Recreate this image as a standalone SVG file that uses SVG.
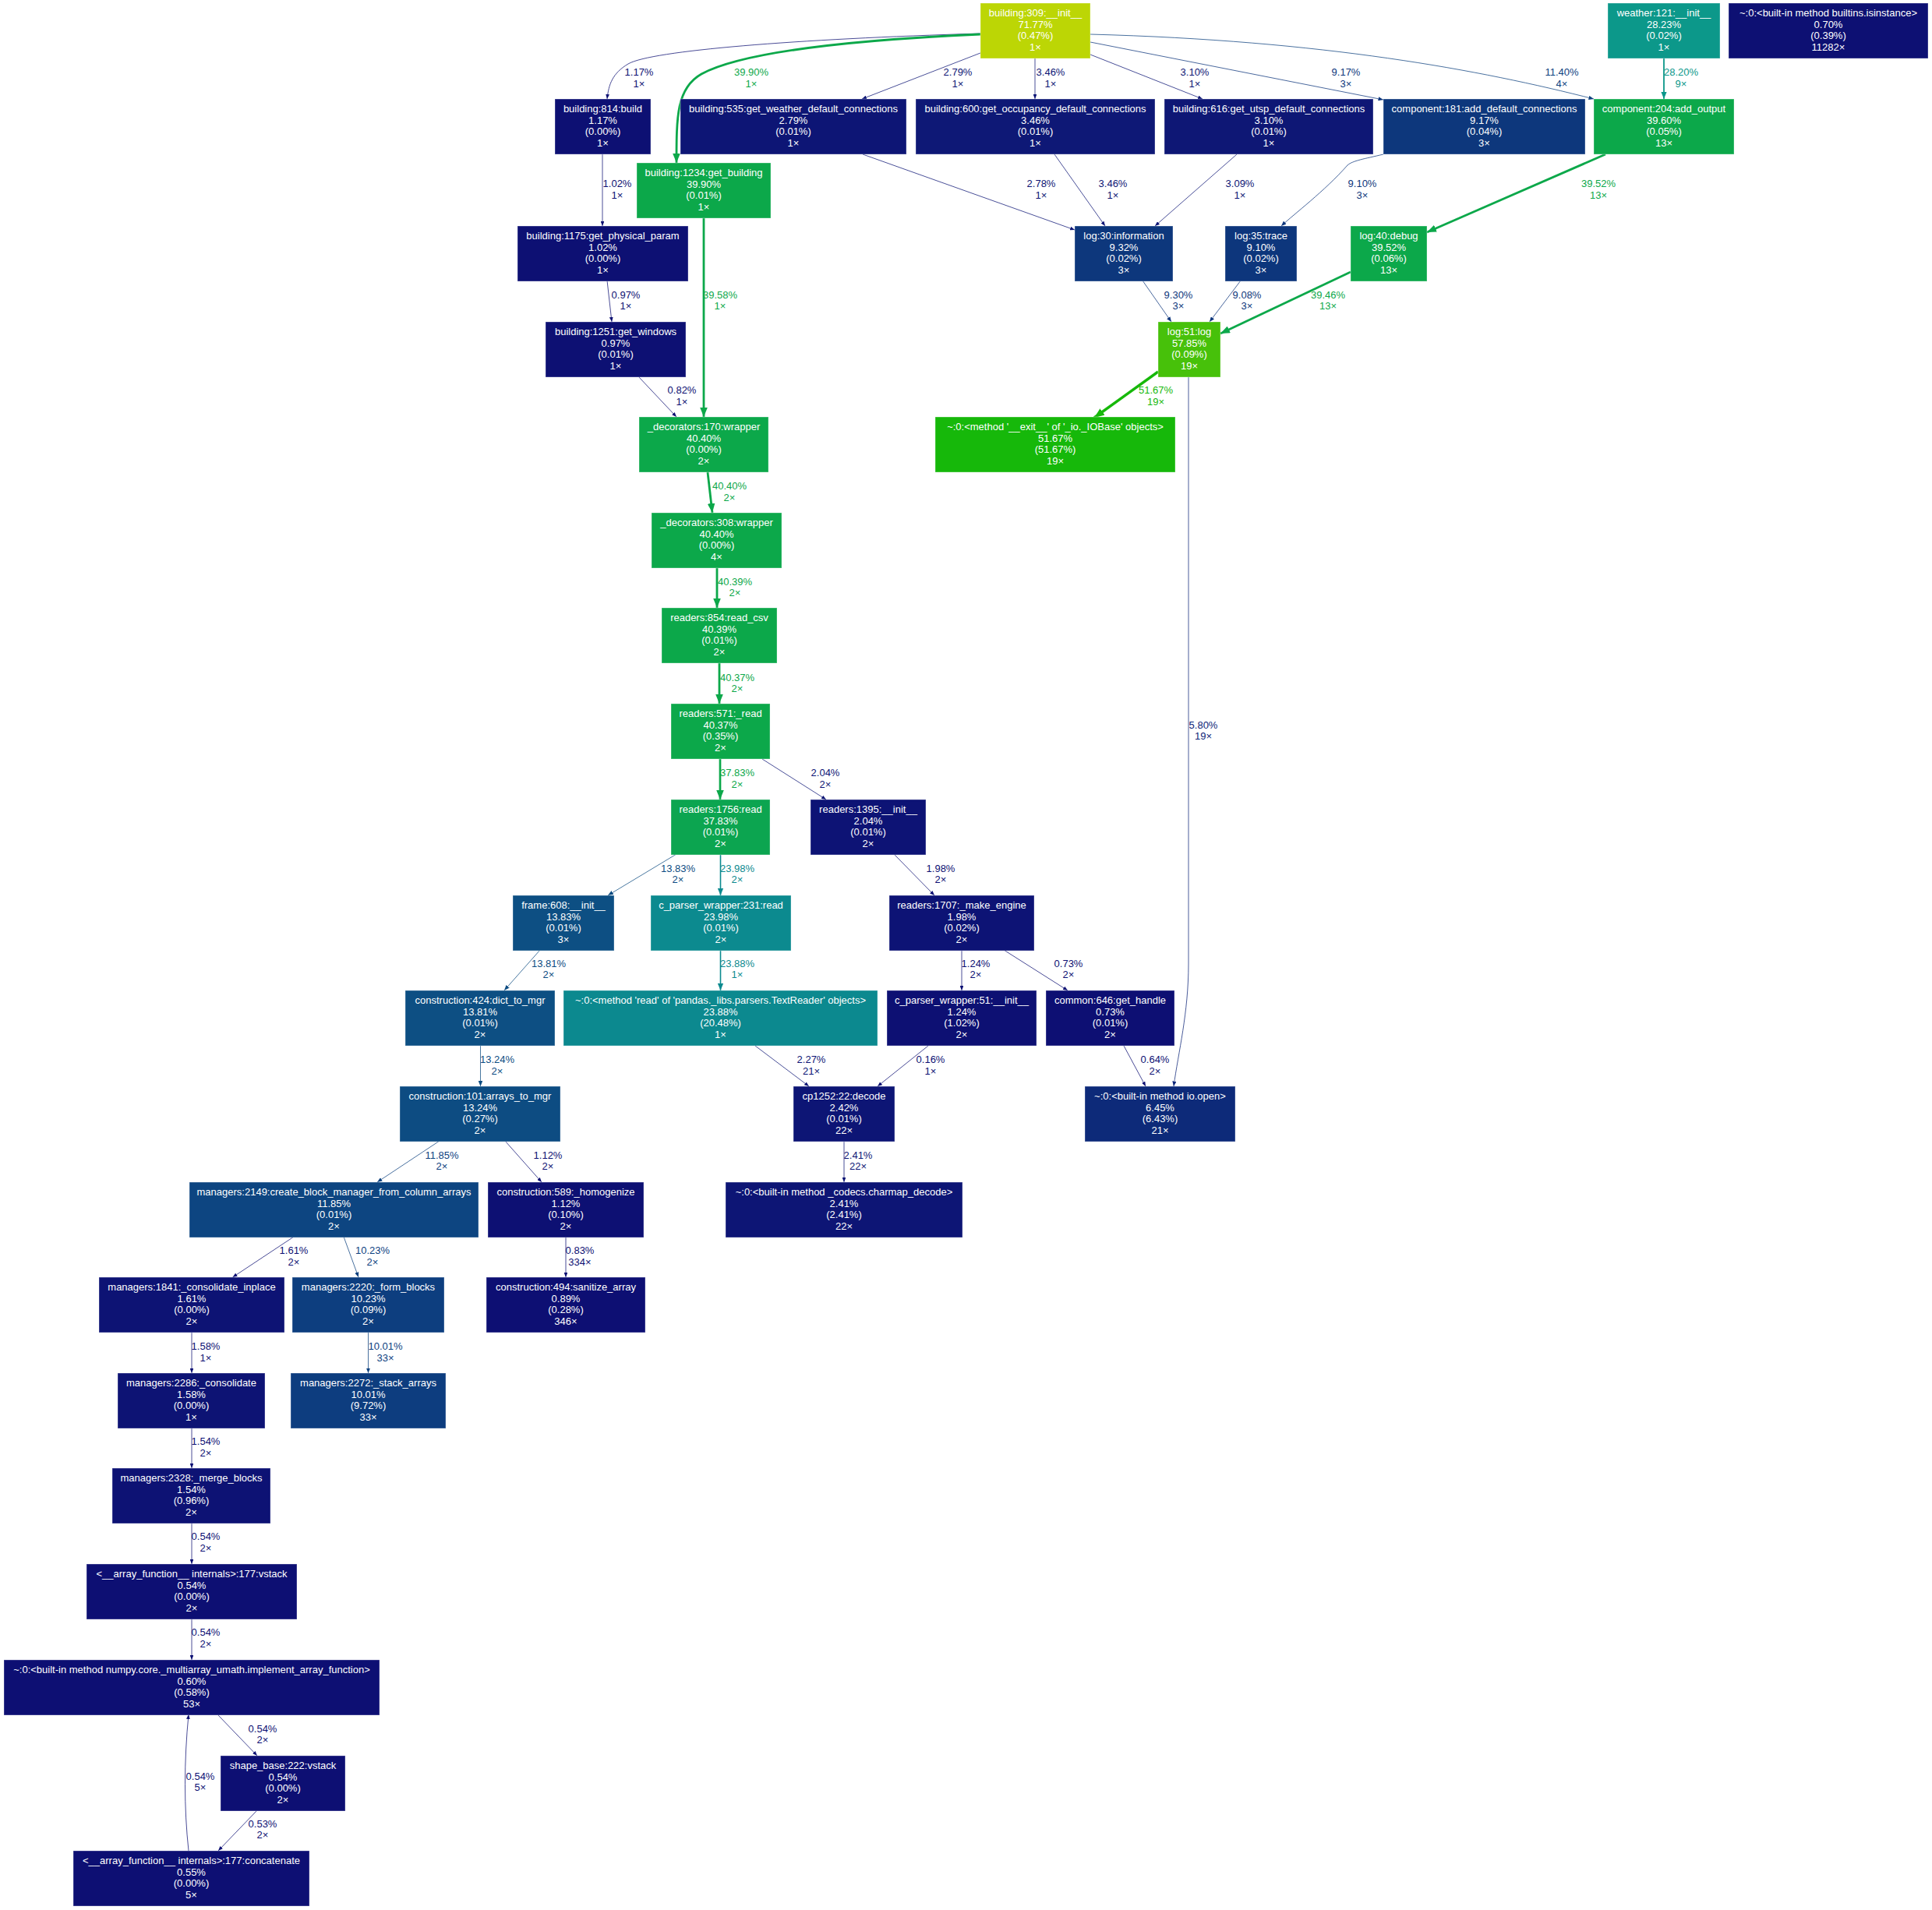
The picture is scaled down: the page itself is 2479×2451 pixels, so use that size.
<svg xmlns="http://www.w3.org/2000/svg" width="2479" height="2451" viewBox="0 0 2479 2451">
<style>
text{font-family:"Liberation Sans",Arial,sans-serif;font-size:13px;text-anchor:middle}
.node rect{stroke:#ffffff;stroke-opacity:0.35;stroke-width:1}
.node text{fill:#ffffff}
.e{fill:none}
.t{stroke-width:1;stroke-opacity:0.75}
.cN{stroke:#0d1073;fill:#0d1073}
.cN2{stroke:#0d1575;fill:#0d1575}
.cB9{stroke:#0d367c;fill:#0d367c}
.cB11{stroke:#0d417f;fill:#0d417f}
.cB13{stroke:#0d4c82;fill:#0d4c82}
.cIO{stroke:#0d2578;fill:#0d2578}
.cT{stroke:#0c8a8f;fill:#0c8a8f}
.cT2{stroke:#0b978a;fill:#0b978a}
.cG{stroke:#0ca84a;fill:#0ca84a}
.cG2{stroke:#16b80a;fill:#16b80a}
path.e{fill:none}
.lbl text{stroke:none}
.lN{fill:#0d1073}.lN2{fill:#0d1575}.lB9{fill:#0d367c}.lB11{fill:#0d417f}.lB13{fill:#0d4c82}.lIO{fill:#0d2578}.lT{fill:#0c8a8f}.lT2{fill:#0b978a}.lG{fill:#0ca84a}.lG2{fill:#16b80a}
</style>
<defs>
<marker id="mN" viewBox="0 0 10 8" refX="10" refY="4" markerWidth="6" markerHeight="4.8" markerUnits="userSpaceOnUse" orient="auto"><path d="M0,0L10,4L0,8z" fill="#0d1073"/></marker>
<marker id="mN2" viewBox="0 0 10 8" refX="10" refY="4" markerWidth="6" markerHeight="4.8" markerUnits="userSpaceOnUse" orient="auto"><path d="M0,0L10,4L0,8z" fill="#0d1575"/></marker>
<marker id="mB9" viewBox="0 0 10 8" refX="10" refY="4" markerWidth="6.5" markerHeight="5.2" markerUnits="userSpaceOnUse" orient="auto"><path d="M0,0L10,4L0,8z" fill="#0d367c"/></marker>
<marker id="mB11" viewBox="0 0 10 8" refX="10" refY="4" markerWidth="6.5" markerHeight="5.2" markerUnits="userSpaceOnUse" orient="auto"><path d="M0,0L10,4L0,8z" fill="#0d417f"/></marker>
<marker id="mB13" viewBox="0 0 10 8" refX="10" refY="4" markerWidth="7" markerHeight="5.6" markerUnits="userSpaceOnUse" orient="auto"><path d="M0,0L10,4L0,8z" fill="#0d4c82"/></marker>
<marker id="mIO" viewBox="0 0 10 8" refX="10" refY="4" markerWidth="6.5" markerHeight="5.2" markerUnits="userSpaceOnUse" orient="auto"><path d="M0,0L10,4L0,8z" fill="#0d2578"/></marker>
<marker id="mT" viewBox="0 0 10 8" refX="10" refY="4" markerWidth="9" markerHeight="7.2" markerUnits="userSpaceOnUse" orient="auto"><path d="M0,0L10,4L0,8z" fill="#0c8a8f"/></marker>
<marker id="mT2" viewBox="0 0 10 8" refX="10" refY="4" markerWidth="9.5" markerHeight="7.6" markerUnits="userSpaceOnUse" orient="auto"><path d="M0,0L10,4L0,8z" fill="#0b978a"/></marker>
<marker id="mG" viewBox="0 0 10 8" refX="10" refY="4" markerWidth="12" markerHeight="9.6" markerUnits="userSpaceOnUse" orient="auto"><path d="M0,0L10,4L0,8z" fill="#0ca84a"/></marker>
<marker id="mG2" viewBox="0 0 10 8" refX="10" refY="4" markerWidth="13" markerHeight="10.4" markerUnits="userSpaceOnUse" orient="auto"><path d="M0,0L10,4L0,8z" fill="#16b80a"/></marker>
</defs>
<rect width="2479" height="2451" fill="#ffffff"/>
<g id="connectors">
<path class="e t cN" d="M1258,43 C1020,50 835,65 806,82 C786,94 781,108 779,127" marker-end="url(#mN)"/>
<path class="e cG" stroke-width="2.8" d="M1258,44 C1080,52 950,68 900,95 C868,113 868,150 868,209" marker-end="url(#mG)"/>
<path class="e t cN2" d="M1258,68 L1106,127" marker-end="url(#mN2)"/>
<path class="e t cN2" d="M1328,75 L1328,127" marker-end="url(#mN2)"/>
<path class="e t cN2" d="M1399,70 L1543,127" marker-end="url(#mN2)"/>
<path class="e t cB9" d="M1399,54 L1775,128" marker-end="url(#mB9)"/>
<path class="e t cB11" d="M1399,44 C1700,52 1900,90 2045,127" marker-end="url(#mB11)"/>
<path class="e cT2" stroke-width="1.8" d="M2135,75 L2135,127" marker-end="url(#mT2)"/>
<path class="e t cN" d="M773,198 L773,290" marker-end="url(#mN)"/>
<path class="e t cN2" d="M1107,198 L1379,295" marker-end="url(#mN2)"/>
<path class="e t cN2" d="M1353,198 L1418,290" marker-end="url(#mN2)"/>
<path class="e t cN2" d="M1587,198 L1482,290" marker-end="url(#mN2)"/>
<path class="e t cB9" d="M1775,198 C1750,204 1736,206 1729,212 C1700,245 1660,275 1644,290" marker-end="url(#mB9)"/>
<path class="e cG" stroke-width="2.8" d="M2060,198 L1831,298" marker-end="url(#mG)"/>
<path class="e t cN" d="M779,360 L785,413" marker-end="url(#mN)"/>
<path class="e cG" stroke-width="2.8" d="M903,279 L903,535" marker-end="url(#mG)"/>
<path class="e t cN" d="M819,483 L868,535" marker-end="url(#mN)"/>
<path class="e t cB9" d="M1466,360 L1503,413" marker-end="url(#mB9)"/>
<path class="e t cB9" d="M1592,360 L1552,413" marker-end="url(#mB9)"/>
<path class="e cG" stroke-width="2.8" d="M1733,349 L1566,428" marker-end="url(#mG)"/>
<path class="e cG2" stroke-width="3.4" d="M1486,477 L1404,536" marker-end="url(#mG2)"/>
<path class="e t cIO" d="M1525,483 L1525,1237 C1525,1300 1512,1350 1506,1394" marker-end="url(#mIO)"/>
<path class="e cG" stroke-width="2.8" d="M908,606 L914,658" marker-end="url(#mG)"/>
<path class="e cG" stroke-width="2.8" d="M920,728 L920,780" marker-end="url(#mG)"/>
<path class="e cG" stroke-width="2.8" d="M923,851 L923,903" marker-end="url(#mG)"/>
<path class="e cG" stroke-width="2.7" d="M924,974 L924,1026" marker-end="url(#mG)"/>
<path class="e t cN2" d="M978,974 L1060,1026" marker-end="url(#mN2)"/>
<path class="e t cB13" d="M868,1096 L780,1149" marker-end="url(#mB13)"/>
<path class="e cT" stroke-width="1.6" d="M924.5,1096 L924.5,1149" marker-end="url(#mT)"/>
<path class="e t cN" d="M1148,1097 L1199,1149" marker-end="url(#mN)"/>
<path class="e t cB13" d="M693,1219 L647,1271" marker-end="url(#mB13)"/>
<path class="e cT" stroke-width="1.6" d="M924.5,1219 L924.5,1271" marker-end="url(#mT)"/>
<path class="e t cN" d="M1234,1219 L1234,1271" marker-end="url(#mN)"/>
<path class="e t cN" d="M1288,1219 L1370,1271" marker-end="url(#mN)"/>
<path class="e t cB13" d="M616.5,1342 L616.5,1394" marker-end="url(#mB13)"/>
<path class="e t cN2" d="M969,1342 L1038,1394" marker-end="url(#mN2)"/>
<path class="e t cN" d="M1191,1342 L1126,1394" marker-end="url(#mN)"/>
<path class="e t cN" d="M1442,1342 L1470,1394" marker-end="url(#mN)"/>
<path class="e t cN2" d="M1083,1464 L1083,1517" marker-end="url(#mN2)"/>
<path class="e t cB11" d="M564,1464 L484,1517" marker-end="url(#mB11)"/>
<path class="e t cN" d="M648,1464 L695,1517" marker-end="url(#mN)"/>
<path class="e t cN" d="M377,1587 L298.5,1639" marker-end="url(#mN)"/>
<path class="e t cB11" d="M441,1587 L460,1639" marker-end="url(#mB11)"/>
<path class="e t cN" d="M726,1587 L726,1639" marker-end="url(#mN)"/>
<path class="e t cN" d="M246,1710 L246,1762" marker-end="url(#mN)"/>
<path class="e t cB11" d="M472.5,1710 L472.5,1762" marker-end="url(#mB11)"/>
<path class="e t cN" d="M246,1832 L246,1884" marker-end="url(#mN)"/>
<path class="e t cN" d="M246,1955 L246,2007" marker-end="url(#mN)"/>
<path class="e t cN" d="M246,2077 L246,2130" marker-end="url(#mN)"/>
<path class="e t cN" d="M279,2200 L330,2253" marker-end="url(#mN)"/>
<path class="e t cN" d="M330,2323 L280,2375" marker-end="url(#mN)"/>
<path class="e t cN" d="M242,2375 C236,2320 236,2260 242,2200" marker-end="url(#mN)"/>
<g class="lbl">
<text class="lN" x="820" y="97">1.17%<tspan x="820" dy="14.6">1×</tspan></text>
<text class="lG" x="964" y="97">39.90%<tspan x="964" dy="14.6">1×</tspan></text>
<text class="lN2" x="1229" y="97">2.79%<tspan x="1229" dy="14.6">1×</tspan></text>
<text class="lN2" x="1348" y="97">3.46%<tspan x="1348" dy="14.6">1×</tspan></text>
<text class="lN2" x="1533" y="97">3.10%<tspan x="1533" dy="14.6">1×</tspan></text>
<text class="lB9" x="1727" y="97">9.17%<tspan x="1727" dy="14.6">3×</tspan></text>
<text class="lB11" x="2004" y="97">11.40%<tspan x="2004" dy="14.6">4×</tspan></text>
<text class="lT2" x="2157" y="97">28.20%<tspan x="2157" dy="14.6">9×</tspan></text>
<text class="lN" x="792" y="240.3">1.02%<tspan x="792" dy="14.5">1×</tspan></text>
<text class="lN2" x="1336" y="240.3">2.78%<tspan x="1336" dy="14.5">1×</tspan></text>
<text class="lN2" x="1428" y="240.3">3.46%<tspan x="1428" dy="14.5">1×</tspan></text>
<text class="lN2" x="1591" y="240.3">3.09%<tspan x="1591" dy="14.5">1×</tspan></text>
<text class="lB9" x="1748" y="240.3">9.10%<tspan x="1748" dy="14.5">3×</tspan></text>
<text class="lG" x="2051" y="240.3">39.52%<tspan x="2051" dy="14.5">13×</tspan></text>
<text class="lN" x="803" y="383">0.97%<tspan x="803" dy="14">1×</tspan></text>
<text class="lG" x="924" y="383">39.58%<tspan x="924" dy="14">1×</tspan></text>
<text class="lB9" x="1512" y="383">9.30%<tspan x="1512" dy="14">3×</tspan></text>
<text class="lB9" x="1600" y="383">9.08%<tspan x="1600" dy="14">3×</tspan></text>
<text class="lG" x="1704" y="383">39.46%<tspan x="1704" dy="14">13×</tspan></text>
<text class="lN" x="875" y="504.6">0.82%<tspan x="875" dy="15">1×</tspan></text>
<text class="lG2" x="1483" y="504.6">51.67%<tspan x="1483" dy="15">19×</tspan></text>
<text class="lG" x="936" y="628">40.40%<tspan x="936" dy="15">2×</tspan></text>
<text class="lIO" x="1544" y="934.6">5.80%<tspan x="1544" dy="14.4">19×</tspan></text>
<text class="lG" x="943" y="751.3">40.39%<tspan x="943" dy="13.7">2×</tspan></text>
<text class="lG" x="946" y="873.6">40.37%<tspan x="946" dy="14">2×</tspan></text>
<text class="lG" x="946" y="996.3">37.83%<tspan x="946" dy="14.3">2×</tspan></text>
<text class="lN2" x="1059" y="996.3">2.04%<tspan x="1059" dy="14.3">2×</tspan></text>
<text class="lB13" x="870" y="1119">13.83%<tspan x="870" dy="13.7">2×</tspan></text>
<text class="lT" x="946" y="1119">23.98%<tspan x="946" dy="13.7">2×</tspan></text>
<text class="lN" x="1207" y="1119">1.98%<tspan x="1207" dy="13.7">2×</tspan></text>
<text class="lB13" x="704" y="1241.3">13.81%<tspan x="704" dy="14">2×</tspan></text>
<text class="lT" x="946" y="1241.3">23.88%<tspan x="946" dy="14">1×</tspan></text>
<text class="lN" x="1252" y="1241.3">1.24%<tspan x="1252" dy="14">2×</tspan></text>
<text class="lN" x="1371" y="1241.3">0.73%<tspan x="1371" dy="14">2×</tspan></text>
<text class="lB13" x="638" y="1364">13.24%<tspan x="638" dy="14.6">2×</tspan></text>
<text class="lN2" x="1041" y="1364">2.27%<tspan x="1041" dy="14.6">21×</tspan></text>
<text class="lN" x="1194" y="1364">0.16%<tspan x="1194" dy="14.6">1×</tspan></text>
<text class="lN" x="1482" y="1364">0.64%<tspan x="1482" dy="14.6">2×</tspan></text>
<text class="lN2" x="1101" y="1487">2.41%<tspan x="1101" dy="14.2">22×</tspan></text>
<text class="lB11" x="567" y="1487">11.85%<tspan x="567" dy="14.2">2×</tspan></text>
<text class="lN" x="703" y="1487">1.12%<tspan x="703" dy="14.2">2×</tspan></text>
<text class="lN" x="377" y="1609">1.61%<tspan x="377" dy="14.6">2×</tspan></text>
<text class="lB11" x="478" y="1609">10.23%<tspan x="478" dy="14.6">2×</tspan></text>
<text class="lN" x="744" y="1609">0.83%<tspan x="744" dy="14.6">334×</tspan></text>
<text class="lN" x="264" y="1732.3">1.58%<tspan x="264" dy="14.3">1×</tspan></text>
<text class="lB11" x="494.5" y="1732.3">10.01%<tspan x="494.5" dy="14.3">33×</tspan></text>
<text class="lN" x="264" y="1854.4">1.54%<tspan x="264" dy="14.3">2×</tspan></text>
<text class="lN" x="264" y="1976.4">0.54%<tspan x="264" dy="15">2×</tspan></text>
<text class="lN" x="264" y="2099.2">0.54%<tspan x="264" dy="15">2×</tspan></text>
<text class="lN" x="337" y="2222.6">0.54%<tspan x="337" dy="14">2×</tspan></text>
<text class="lN" x="337" y="2344.6">0.53%<tspan x="337" dy="14.7">2×</tspan></text>
<text class="lN" x="257" y="2284">0.54%<tspan x="257" dy="14.4">5×</tspan></text>
</g>
</g>
<g id="n309" class="node"><rect x="1258" y="4" width="141" height="71" fill="#bcd605"/><text x="1328.5" y="20.7">building:309:__init__<tspan x="1328.5" dy="14.8">71.77%</tspan><tspan x="1328.5" dy="14.8">(0.47%)</tspan><tspan x="1328.5" dy="14.8">1×</tspan></text></g>
<g id="n121" class="node"><rect x="2063" y="4" width="144" height="71" fill="#0c988a"/><text x="2135" y="20.7">weather:121:__init__<tspan x="2135" dy="14.8">28.23%</tspan><tspan x="2135" dy="14.8">(0.02%)</tspan><tspan x="2135" dy="14.8">1×</tspan></text></g>
<g id="nisinstance" class="node"><rect x="2218" y="4" width="256" height="71" fill="#0d1073"/><text x="2346" y="20.7">~:0:&lt;built-in method builtins.isinstance&gt;<tspan x="2346" dy="14.8">0.70%</tspan><tspan x="2346" dy="14.8">(0.39%)</tspan><tspan x="2346" dy="14.8">11282×</tspan></text></g>
<g id="n814" class="node"><rect x="712" y="127" width="123" height="71" fill="#0d1073"/><text x="773.5" y="143.7">building:814:build<tspan x="773.5" dy="14.8">1.17%</tspan><tspan x="773.5" dy="14.8">(0.00%)</tspan><tspan x="773.5" dy="14.8">1×</tspan></text></g>
<g id="n535" class="node"><rect x="873" y="127" width="290" height="71" fill="#0d1575"/><text x="1018" y="143.7">building:535:get_weather_default_connections<tspan x="1018" dy="14.8">2.79%</tspan><tspan x="1018" dy="14.8">(0.01%)</tspan><tspan x="1018" dy="14.8">1×</tspan></text></g>
<g id="n600" class="node"><rect x="1175" y="127" width="307" height="71" fill="#0e1876"/><text x="1328.5" y="143.7">building:600:get_occupancy_default_connections<tspan x="1328.5" dy="14.8">3.46%</tspan><tspan x="1328.5" dy="14.8">(0.01%)</tspan><tspan x="1328.5" dy="14.8">1×</tspan></text></g>
<g id="n616" class="node"><rect x="1494" y="127" width="268" height="71" fill="#0e1775"/><text x="1628" y="143.7">building:616:get_utsp_default_connections<tspan x="1628" dy="14.8">3.10%</tspan><tspan x="1628" dy="14.8">(0.01%)</tspan><tspan x="1628" dy="14.8">1×</tspan></text></g>
<g id="n181" class="node"><rect x="1775" y="127" width="259" height="71" fill="#0d377c"/><text x="1904.5" y="143.7">component:181:add_default_connections<tspan x="1904.5" dy="14.8">9.17%</tspan><tspan x="1904.5" dy="14.8">(0.04%)</tspan><tspan x="1904.5" dy="14.8">3×</tspan></text></g>
<g id="n204" class="node"><rect x="2045" y="127" width="180" height="71" fill="#0ca84a"/><text x="2135" y="143.7">component:204:add_output<tspan x="2135" dy="14.8">39.60%</tspan><tspan x="2135" dy="14.8">(0.05%)</tspan><tspan x="2135" dy="14.8">13×</tspan></text></g>
<g id="n1234" class="node"><rect x="817" y="209" width="172" height="71" fill="#0ca84a"/><text x="903" y="225.7">building:1234:get_building<tspan x="903" dy="14.8">39.90%</tspan><tspan x="903" dy="14.8">(0.01%)</tspan><tspan x="903" dy="14.8">1×</tspan></text></g>
<g id="n1175" class="node"><rect x="664" y="290" width="219" height="71" fill="#0d1073"/><text x="773.5" y="306.7">building:1175:get_physical_param<tspan x="773.5" dy="14.8">1.02%</tspan><tspan x="773.5" dy="14.8">(0.00%)</tspan><tspan x="773.5" dy="14.8">1×</tspan></text></g>
<g id="nlog30" class="node"><rect x="1379" y="290" width="126" height="71" fill="#0d377c"/><text x="1442" y="306.7">log:30:information<tspan x="1442" dy="14.8">9.32%</tspan><tspan x="1442" dy="14.8">(0.02%)</tspan><tspan x="1442" dy="14.8">3×</tspan></text></g>
<g id="nlog35" class="node"><rect x="1572" y="290" width="92" height="71" fill="#0d367c"/><text x="1618" y="306.7">log:35:trace<tspan x="1618" dy="14.8">9.10%</tspan><tspan x="1618" dy="14.8">(0.02%)</tspan><tspan x="1618" dy="14.8">3×</tspan></text></g>
<g id="nlog40" class="node"><rect x="1733" y="290" width="98" height="71" fill="#0ca84a"/><text x="1782" y="306.7">log:40:debug<tspan x="1782" dy="14.8">39.52%</tspan><tspan x="1782" dy="14.8">(0.06%)</tspan><tspan x="1782" dy="14.8">13×</tspan></text></g>
<g id="n1251" class="node"><rect x="700" y="413" width="180" height="71" fill="#0d1073"/><text x="790" y="429.7">building:1251:get_windows<tspan x="790" dy="14.8">0.97%</tspan><tspan x="790" dy="14.8">(0.01%)</tspan><tspan x="790" dy="14.8">1×</tspan></text></g>
<g id="nlog51" class="node"><rect x="1486" y="413" width="80" height="71" fill="#47c10a"/><text x="1526" y="429.7">log:51:log<tspan x="1526" dy="14.8">57.85%</tspan><tspan x="1526" dy="14.8">(0.09%)</tspan><tspan x="1526" dy="14.8">19×</tspan></text></g>
<g id="nd170" class="node"><rect x="820" y="535" width="166" height="71" fill="#0ca84a"/><text x="903" y="551.7">_decorators:170:wrapper<tspan x="903" dy="14.8">40.40%</tspan><tspan x="903" dy="14.8">(0.00%)</tspan><tspan x="903" dy="14.8">2×</tspan></text></g>
<g id="nexit" class="node"><rect x="1200" y="535" width="308" height="71" fill="#16b80a"/><text x="1354" y="551.7">~:0:&lt;method '__exit__' of '_io._IOBase' objects&gt;<tspan x="1354" dy="14.8">51.67%</tspan><tspan x="1354" dy="14.8">(51.67%)</tspan><tspan x="1354" dy="14.8">19×</tspan></text></g>
<g id="nd308" class="node"><rect x="836" y="658" width="167" height="71" fill="#0ca84a"/><text x="919.5" y="674.7">_decorators:308:wrapper<tspan x="919.5" dy="14.8">40.40%</tspan><tspan x="919.5" dy="14.8">(0.00%)</tspan><tspan x="919.5" dy="14.8">4×</tspan></text></g>
<g id="nreadcsv" class="node"><rect x="849" y="780" width="148" height="71" fill="#0ca84a"/><text x="923" y="796.7">readers:854:read_csv<tspan x="923" dy="14.8">40.39%</tspan><tspan x="923" dy="14.8">(0.01%)</tspan><tspan x="923" dy="14.8">2×</tspan></text></g>
<g id="nread571" class="node"><rect x="861" y="903" width="127" height="71" fill="#0ca84a"/><text x="924.5" y="919.7">readers:571:_read<tspan x="924.5" dy="14.8">40.37%</tspan><tspan x="924.5" dy="14.8">(0.35%)</tspan><tspan x="924.5" dy="14.8">2×</tspan></text></g>
<g id="n1756" class="node"><rect x="861" y="1026" width="127" height="71" fill="#0ca550"/><text x="924.5" y="1042.7">readers:1756:read<tspan x="924.5" dy="14.8">37.83%</tspan><tspan x="924.5" dy="14.8">(0.01%)</tspan><tspan x="924.5" dy="14.8">2×</tspan></text></g>
<g id="n1395" class="node"><rect x="1040" y="1026" width="148" height="71" fill="#0d1375"/><text x="1114" y="1042.7">readers:1395:__init__<tspan x="1114" dy="14.8">2.04%</tspan><tspan x="1114" dy="14.8">(0.01%)</tspan><tspan x="1114" dy="14.8">2×</tspan></text></g>
<g id="nframe608" class="node"><rect x="658" y="1149" width="130" height="71" fill="#0d4f83"/><text x="723" y="1165.7">frame:608:__init__<tspan x="723" dy="14.8">13.83%</tspan><tspan x="723" dy="14.8">(0.01%)</tspan><tspan x="723" dy="14.8">3×</tspan></text></g>
<g id="ncpw231" class="node"><rect x="835" y="1149" width="180" height="71" fill="#0c8a8f"/><text x="925" y="1165.7">c_parser_wrapper:231:read<tspan x="925" dy="14.8">23.98%</tspan><tspan x="925" dy="14.8">(0.01%)</tspan><tspan x="925" dy="14.8">2×</tspan></text></g>
<g id="n1707" class="node"><rect x="1141" y="1149" width="186" height="71" fill="#0d1375"/><text x="1234" y="1165.7">readers:1707:_make_engine<tspan x="1234" dy="14.8">1.98%</tspan><tspan x="1234" dy="14.8">(0.02%)</tspan><tspan x="1234" dy="14.8">2×</tspan></text></g>
<g id="ndict" class="node"><rect x="520" y="1271" width="192" height="71" fill="#0d4f83"/><text x="616" y="1287.7">construction:424:dict_to_mgr<tspan x="616" dy="14.8">13.81%</tspan><tspan x="616" dy="14.8">(0.01%)</tspan><tspan x="616" dy="14.8">2×</tspan></text></g>
<g id="ntextreader" class="node"><rect x="723" y="1271" width="403" height="71" fill="#0c898f"/><text x="924.5" y="1287.7">~:0:&lt;method 'read' of 'pandas._libs.parsers.TextReader' objects&gt;<tspan x="924.5" dy="14.8">23.88%</tspan><tspan x="924.5" dy="14.8">(20.48%)</tspan><tspan x="924.5" dy="14.8">1×</tspan></text></g>
<g id="ncpw51" class="node"><rect x="1138" y="1271" width="192" height="71" fill="#0d1073"/><text x="1234" y="1287.7">c_parser_wrapper:51:__init__<tspan x="1234" dy="14.8">1.24%</tspan><tspan x="1234" dy="14.8">(1.02%)</tspan><tspan x="1234" dy="14.8">2×</tspan></text></g>
<g id="ncommon646" class="node"><rect x="1342" y="1271" width="165" height="71" fill="#0d0f73"/><text x="1424.5" y="1287.7">common:646:get_handle<tspan x="1424.5" dy="14.8">0.73%</tspan><tspan x="1424.5" dy="14.8">(0.01%)</tspan><tspan x="1424.5" dy="14.8">2×</tspan></text></g>
<g id="narrays" class="node"><rect x="513" y="1394" width="206" height="71" fill="#0d4c82"/><text x="616" y="1410.7">construction:101:arrays_to_mgr<tspan x="616" dy="14.8">13.24%</tspan><tspan x="616" dy="14.8">(0.27%)</tspan><tspan x="616" dy="14.8">2×</tspan></text></g>
<g id="ncp1252" class="node"><rect x="1018" y="1394" width="130" height="71" fill="#0d1575"/><text x="1083" y="1410.7">cp1252:22:decode<tspan x="1083" dy="14.8">2.42%</tspan><tspan x="1083" dy="14.8">(0.01%)</tspan><tspan x="1083" dy="14.8">22×</tspan></text></g>
<g id="nioopen" class="node"><rect x="1392" y="1394" width="193" height="71" fill="#0d2a79"/><text x="1488.5" y="1410.7">~:0:&lt;built-in method io.open&gt;<tspan x="1488.5" dy="14.8">6.45%</tspan><tspan x="1488.5" dy="14.8">(6.43%)</tspan><tspan x="1488.5" dy="14.8">21×</tspan></text></g>
<g id="ncreate" class="node"><rect x="243" y="1517" width="371" height="71" fill="#0d4581"/><text x="428.5" y="1533.7">managers:2149:create_block_manager_from_column_arrays<tspan x="428.5" dy="14.8">11.85%</tspan><tspan x="428.5" dy="14.8">(0.01%)</tspan><tspan x="428.5" dy="14.8">2×</tspan></text></g>
<g id="nhomog" class="node"><rect x="626" y="1517" width="200" height="71" fill="#0d1073"/><text x="726" y="1533.7">construction:589:_homogenize<tspan x="726" dy="14.8">1.12%</tspan><tspan x="726" dy="14.8">(0.10%)</tspan><tspan x="726" dy="14.8">2×</tspan></text></g>
<g id="ncharmap" class="node"><rect x="931" y="1517" width="304" height="71" fill="#0d1575"/><text x="1083" y="1533.7">~:0:&lt;built-in method _codecs.charmap_decode&gt;<tspan x="1083" dy="14.8">2.41%</tspan><tspan x="1083" dy="14.8">(2.41%)</tspan><tspan x="1083" dy="14.8">22×</tspan></text></g>
<g id="ncinplace" class="node"><rect x="127" y="1639" width="238" height="71" fill="#0d1374"/><text x="246" y="1655.7">managers:1841:_consolidate_inplace<tspan x="246" dy="14.8">1.61%</tspan><tspan x="246" dy="14.8">(0.00%)</tspan><tspan x="246" dy="14.8">2×</tspan></text></g>
<g id="nform" class="node"><rect x="375" y="1639" width="195" height="71" fill="#0d3e7f"/><text x="472.5" y="1655.7">managers:2220:_form_blocks<tspan x="472.5" dy="14.8">10.23%</tspan><tspan x="472.5" dy="14.8">(0.09%)</tspan><tspan x="472.5" dy="14.8">2×</tspan></text></g>
<g id="nsanitize" class="node"><rect x="624" y="1639" width="204" height="71" fill="#0d0f73"/><text x="726" y="1655.7">construction:494:sanitize_array<tspan x="726" dy="14.8">0.89%</tspan><tspan x="726" dy="14.8">(0.28%)</tspan><tspan x="726" dy="14.8">346×</tspan></text></g>
<g id="nconsol" class="node"><rect x="151" y="1762" width="189" height="71" fill="#0d1374"/><text x="245.5" y="1778.7">managers:2286:_consolidate<tspan x="245.5" dy="14.8">1.58%</tspan><tspan x="245.5" dy="14.8">(0.00%)</tspan><tspan x="245.5" dy="14.8">1×</tspan></text></g>
<g id="nstack" class="node"><rect x="373" y="1762" width="199" height="71" fill="#0d3d7f"/><text x="472.5" y="1778.7">managers:2272:_stack_arrays<tspan x="472.5" dy="14.8">10.01%</tspan><tspan x="472.5" dy="14.8">(9.72%)</tspan><tspan x="472.5" dy="14.8">33×</tspan></text></g>
<g id="nmerge" class="node"><rect x="144" y="1884" width="203" height="71" fill="#0d1274"/><text x="245.5" y="1900.7">managers:2328:_merge_blocks<tspan x="245.5" dy="14.8">1.54%</tspan><tspan x="245.5" dy="14.8">(0.96%)</tspan><tspan x="245.5" dy="14.8">2×</tspan></text></g>
<g id="nvstack" class="node"><rect x="111" y="2007" width="270" height="71" fill="#0d0f73"/><text x="246" y="2023.7">&lt;__array_function__ internals&gt;:177:vstack<tspan x="246" dy="14.8">0.54%</tspan><tspan x="246" dy="14.8">(0.00%)</tspan><tspan x="246" dy="14.8">2×</tspan></text></g>
<g id="nnumpy" class="node"><rect x="5" y="2130" width="482" height="71" fill="#0d0f73"/><text x="246" y="2146.7">~:0:&lt;built-in method numpy.core._multiarray_umath.implement_array_function&gt;<tspan x="246" dy="14.8">0.60%</tspan><tspan x="246" dy="14.8">(0.58%)</tspan><tspan x="246" dy="14.8">53×</tspan></text></g>
<g id="nshape" class="node"><rect x="283" y="2253" width="160" height="71" fill="#0d0f73"/><text x="363" y="2269.7">shape_base:222:vstack<tspan x="363" dy="14.8">0.54%</tspan><tspan x="363" dy="14.8">(0.00%)</tspan><tspan x="363" dy="14.8">2×</tspan></text></g>
<g id="nconcat" class="node"><rect x="94" y="2375" width="303" height="71" fill="#0d0f73"/><text x="245.5" y="2391.7">&lt;__array_function__ internals&gt;:177:concatenate<tspan x="245.5" dy="14.8">0.55%</tspan><tspan x="245.5" dy="14.8">(0.00%)</tspan><tspan x="245.5" dy="14.8">5×</tspan></text></g>
</svg>
